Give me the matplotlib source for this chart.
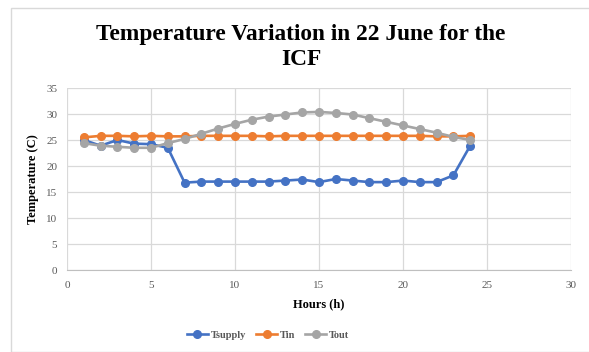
import matplotlib
matplotlib.use("Agg")
import matplotlib.pyplot as plt
from matplotlib.patches import Rectangle

hours = list(range(1, 25))
t_supply = [25.0, 23.9, 25.0, 24.3, 24.2, 23.5, 16.8, 17.0, 17.0, 17.0, 17.0, 17.0,
            17.2, 17.4, 16.9, 17.5, 17.2, 16.9, 16.9, 17.2, 16.9, 16.9, 18.2, 23.9]
t_in = [25.5, 25.8, 25.8, 25.7, 25.8, 25.7, 25.7, 25.8, 25.8, 25.8, 25.8, 25.7,
        25.8, 25.8, 25.8, 25.8, 25.8, 25.8, 25.8, 25.8, 25.8, 25.7, 25.7, 25.8]
t_out = [24.4, 23.9, 23.7, 23.5, 23.5, 24.4, 25.2, 26.2, 27.2, 28.1, 28.9, 29.5,
         29.9, 30.3, 30.4, 30.2, 29.9, 29.2, 28.5, 27.8, 27.1, 26.4, 25.6, 25.0]
x_ticks = [0, 5, 10, 15, 20, 25, 30]
y_ticks = [0, 5, 10, 15, 20, 25, 30, 35]

plt.rcParams['font.family'] = ['Liberation Serif', 'DejaVu Serif']

fig = plt.figure(figsize=(5.89, 3.52), dpi=100)
W, H = 589, 352
fig.patches.append(Rectangle((11 / W, 0), 1.0, 1 - 8 / H, transform=fig.transFigure,
                             fill=False, edgecolor='#d9d9d9', linewidth=1.0))

ax = fig.add_axes([67 / W, 1 - 270 / H, (571 - 67) / W, (270 - 88) / H])
ax.plot(hours, t_supply, color='#4472c4', marker='o', markersize=5.5, linewidth=1.9, label='Tsupply', zorder=3)
ax.plot(hours, t_in, color='#ed7d31', marker='o', markersize=5.5, linewidth=1.9, label='Tin', zorder=3)
ax.plot(hours, t_out, color='#a5a5a5', marker='o', markersize=5.5, linewidth=1.9, label='Tout', zorder=3)

ax.set_xlim(0, 30)
ax.set_ylim(0, 35)
ax.set_xticks(x_ticks)
ax.set_yticks(y_ticks)
ax.grid(True, color='#d9d9d9', linewidth=0.9)
ax.set_axisbelow(True)
for s in ['top', 'right', 'left']:
    ax.spines[s].set_visible(False)
ax.spines['bottom'].set_color('#bfbfbf')
ax.tick_params(length=0, labelsize=8, labelcolor='#595959')
ax.tick_params(axis='x', pad=8)
ax.tick_params(axis='y', pad=7)

ax.set_xlabel('Hours (h)', fontsize=9, fontweight='bold', labelpad=6)
ax.set_ylabel('Temperature (C)', fontsize=9, fontweight='bold', labelpad=5)

fig.text(301 / W, 1 - 47 / H, 'Temperature Variation in 22 June for the\nICF', ha='center', va='center',
         fontsize=16.8, fontweight='bold', linespacing=1.2)

ax.legend(loc='center', bbox_to_anchor=(268 / W, 1 - 335 / H), bbox_transform=fig.transFigure,
          ncol=3, frameon=False, handlelength=2.0, columnspacing=1.0, handletextpad=0.25,
          prop={'weight': 'bold', 'size': 7.5})
for t in ax.get_legend().get_texts():
    t.set_color('#595959')

fig.savefig('out.png', dpi=100)
